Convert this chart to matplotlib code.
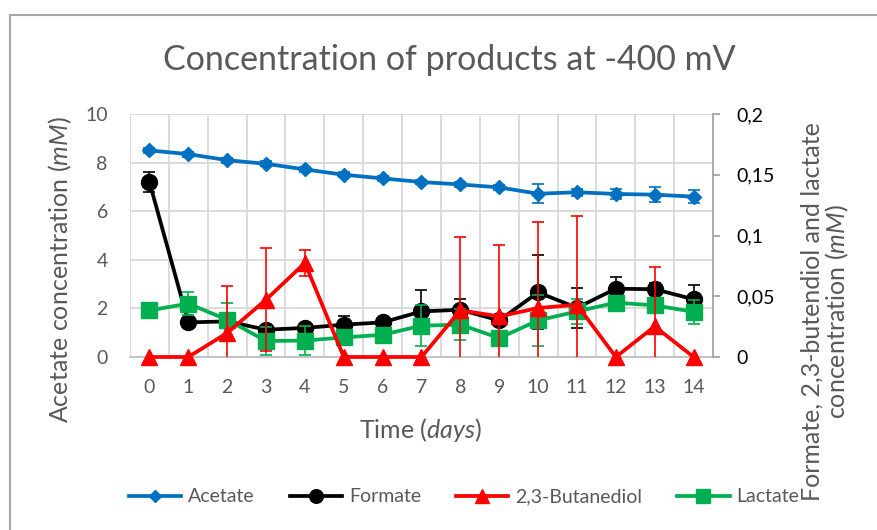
import matplotlib
matplotlib.use("Agg")
import matplotlib.pyplot as plt
from matplotlib.lines import Line2D
from matplotlib.ticker import FuncFormatter, MultipleLocator

plt.rcParams["font.family"] = ["Lato", "DejaVu Sans"]
plt.rcParams["mathtext.fontset"] = "custom"
plt.rcParams["mathtext.rm"] = "Lato"
plt.rcParams["mathtext.it"] = "Lato:italic"

# Sampling days
days = list(range(15))

# Acetate (left axis, mM)
acetate = [8.5, 8.35, 8.1, 7.95, 7.72, 7.5, 7.35, 7.2, 7.1, 6.98, 6.72, 6.78, 6.71, 6.68, 6.6]
acetate_err = [0.12, 0.1, 0.1, 0.1, 0.1, 0.1, 0.1, 0.1, 0.12, 0.1, 0.4, 0.15, 0.2, 0.3, 0.28]

# Formate, 2,3-butanediol and lactate (right axis, mM)
formate = [0.144, 0.0285, 0.0293, 0.0225, 0.0239, 0.0266, 0.0285, 0.0375, 0.0389, 0.0301,
           0.0532, 0.0405, 0.0562, 0.0558, 0.0475]
formate_err = [0.0079, 0.003, 0.004, 0.003, 0.003, 0.0074, 0.004, 0.0173, 0.009, 0.003,
               0.0305, 0.0165, 0.0096, 0.005, 0.0118]
butanediol = [0, 0, 0.0198, 0.0472, 0.0774, 0, 0, 0, 0.0384, 0.0334, 0.0403, 0.043, 0, 0.0252, 0]
butanediol_err = [0, 0, 0.0384, 0.0425, 0.011, 0, 0, 0, 0.0603, 0.059, 0.0705, 0.0727, 0, 0.0488, 0]
lactate = [0.0384, 0.0439, 0.0307, 0.0132, 0.0135, 0.0161, 0.0183, 0.0258, 0.0266, 0.0156,
           0.0301, 0.0375, 0.0447, 0.0425, 0.0372]
lactate_err = [0.002, 0.0096, 0.014, 0.0115, 0.012, 0.003, 0.003, 0.0167, 0.013, 0.003,
               0.0207, 0.0103, 0.003, 0.003, 0.0101]

series_names = ["Acetate", "Formate", "2,3-Butanediol", "Lactate"]
colors = ["#0070C0", "#000000", "#FF0000", "#00B050"]
markers = ["D", "o", "^", "s"]
msizes = [7.6, 11.5, 12, 12]

W, H = 878, 530
fig = plt.figure(figsize=(W / 100, H / 100), dpi=100)


def fx(px):
    return px / W


def fy(py):
    return 1 - py / H


ax = fig.add_axes([fx(130), fy(357), fx(713) - fx(130), fy(114) - fy(357)])
ax2 = ax.twinx()

gray_txt = "#595959"
grid_c = "#D9D9D9"

ax.set_xlim(-0.5, 14.5)
ax.set_ylim(0, 10)
ax2.set_ylim(0, 0.2)
ax.set_xticks(days)
ax.set_xticklabels([str(d) for d in days])
ax.xaxis.set_minor_locator(MultipleLocator(1, offset=0.5))
ax.set_yticks(range(0, 11, 2))
ax2.set_yticks([0, 0.05, 0.1, 0.15, 0.2])
ax2.yaxis.set_major_formatter(FuncFormatter(lambda v, _: ("%g" % v).replace(".", ",")))

ax.grid(axis="y", which="major", color=grid_c, lw=1.3, zorder=0)
ax.grid(axis="x", which="minor", color=grid_c, lw=1.3, zorder=0)
ax.set_axisbelow(True)

for s in ["top", "left", "right"]:
    ax.spines[s].set_visible(False)
ax.spines["bottom"].set_color("#BFBFBF")
ax.spines["bottom"].set_linewidth(1.3)
for s in ["top", "left", "bottom"]:
    ax2.spines[s].set_visible(False)
ax2.spines["right"].set_color("#A6A6A6")
ax2.spines["right"].set_linewidth(1.3)

ax.tick_params(axis="x", which="both", length=0, pad=16, labelsize=14, labelcolor=gray_txt)
ax.tick_params(axis="y", length=0, pad=16, labelsize=14, labelcolor=gray_txt)
ax2.tick_params(axis="y", length=5, width=1.3, color="#A6A6A6", pad=12, labelsize=14,
                labelcolor="black")


def draw(axis, y, err, idx, z):
    c = colors[idx]
    xs = [d for d, e in zip(days, err) if e > 0]
    ys = [v for v, e in zip(y, err) if e > 0]
    es = [e for e in err if e > 0]
    axis.errorbar(xs, ys, yerr=es, fmt="none", ecolor=c, elinewidth=1.2,
                  capsize=4.3, capthick=1.2, zorder=z)
    axis.plot(days, y, color=c, lw=2.7, marker=markers[idx], ms=msizes[idx],
              markeredgecolor=c, clip_on=False, zorder=z + 0.5)


draw(ax, acetate, acetate_err, 0, 3)
draw(ax2, formate, formate_err, 1, 3)
draw(ax2, lactate, lactate_err, 3, 4)
draw(ax2, butanediol, butanediol_err, 2, 5)

# Titles
fig.text(fx(449), fy(60), "Concentration of products at -400 mV", ha="center", va="center",
         fontsize=24.5, color=gray_txt)
fig.text(fx(60), fy(270), r"Acetate concentration ($\mathit{mM}$)", rotation=90,
         ha="center", va="center", fontsize=18, color=gray_txt)
fig.text(fx(421), fy(430), r"Time ($\mathit{days}$)", ha="center", va="center",
         fontsize=18, color=gray_txt)
fig.text(fx(826), fy(312), "Formate, 2,3-butendiol and lactate\n" + r"concentration ($\mathit{mM}$)",
         rotation=90, ha="center", va="center", ma="center", fontsize=18, color=gray_txt,
         linespacing=1.0)

# Legend
handles = [Line2D([], [], color=c, lw=2.7, marker=m, ms=s * 0.85, markeredgecolor=c)
           for c, m, s in zip(colors, markers, msizes)]
fig.legend(handles, series_names, loc="center", bbox_to_anchor=(fx(464), fy(497)), ncol=4,
           frameon=False, fontsize=14, handlelength=2.7, handletextpad=0.35,
           columnspacing=1.8, labelcolor=gray_txt)

# Chart border
border_c = "#A6A6A6"
fig.add_artist(Line2D([fx(10), 1], [fy(15), fy(15)], color=border_c, lw=1.5,
                      transform=fig.transFigure))
fig.add_artist(Line2D([fx(10), fx(10)], [fy(15), 0], color=border_c, lw=1.5,
                      transform=fig.transFigure))

fig.savefig("out.png", dpi=100)
